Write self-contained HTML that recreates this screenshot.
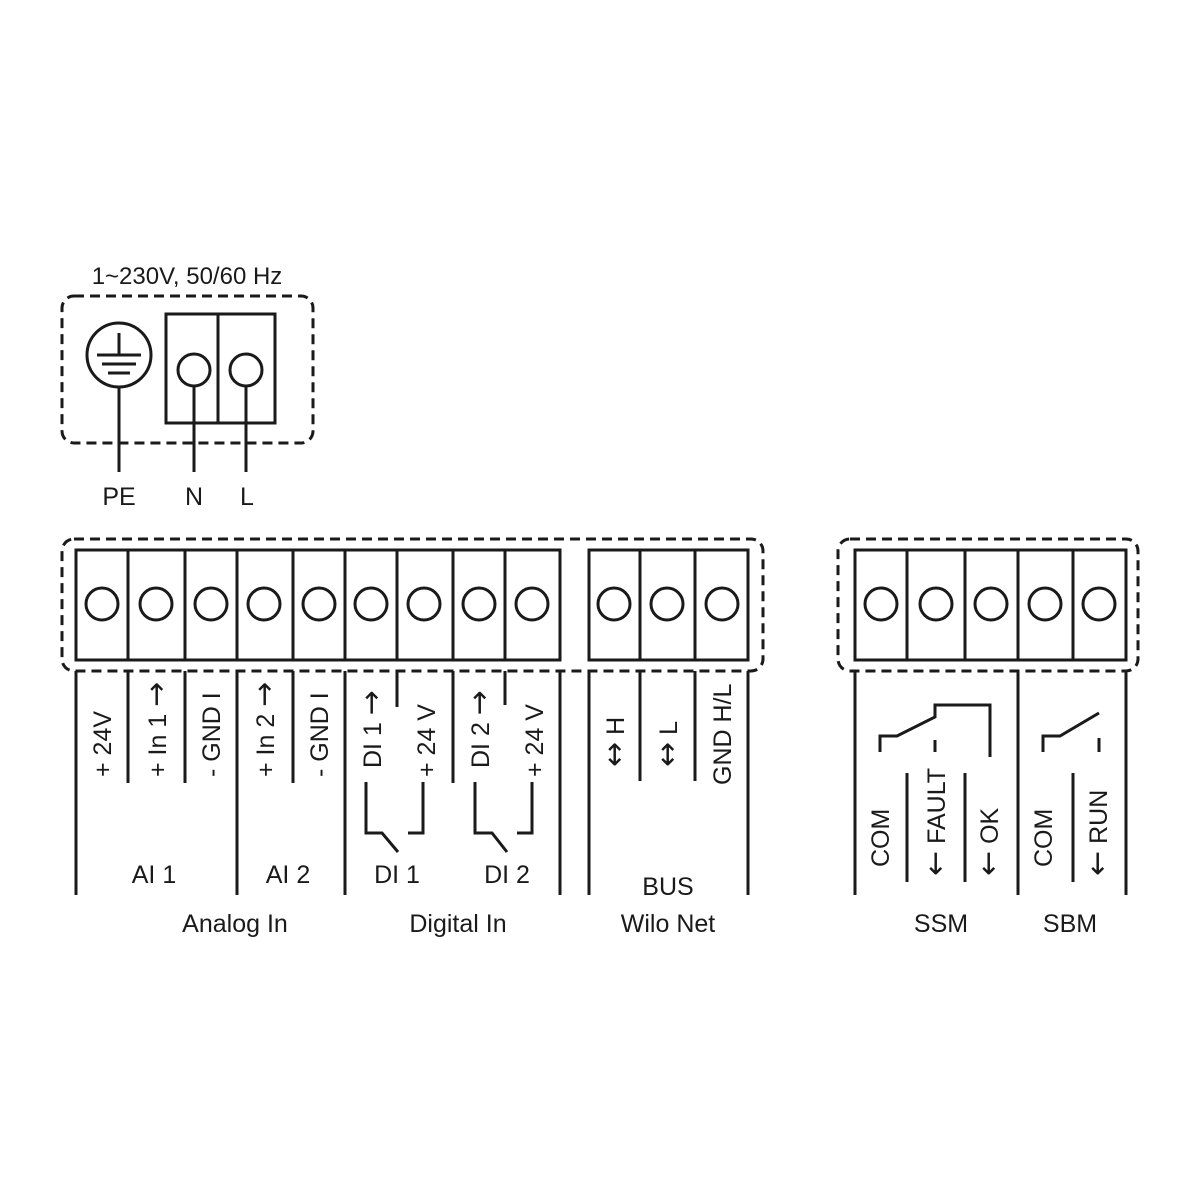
<!DOCTYPE html>
<html><head><meta charset="utf-8"><style>html,body{margin:0;padding:0;background:#fff}svg{display:block}.a{font-family:"DejaVu Sans",sans-serif;font-size:30px}</style></head>
<body>
<svg width="1200" height="1200" viewBox="0 0 1200 1200" xmlns="http://www.w3.org/2000/svg" font-family="'Liberation Sans', sans-serif" fill="none" stroke="#1a1a1a" stroke-width="3">
<rect width="1200" height="1200" fill="#fff" stroke="none"/>
<text x="187" y="284" font-size="24" fill="#1a1a1a" stroke="none" text-anchor="middle">1~230V, 50/60 Hz</text>
<rect x="62" y="296" width="251" height="147" rx="12" stroke-dasharray="10,6"/>
<circle cx="119" cy="355" r="32"/>
<line x1="119" y1="333" x2="119" y2="355"/>
<line x1="97" y1="355" x2="141" y2="355"/>
<line x1="102" y1="364" x2="136" y2="364"/>
<line x1="108" y1="373" x2="130" y2="373"/>
<line x1="119" y1="387" x2="119" y2="472"/>
<rect x="166" y="314" width="109" height="109"/>
<line x1="218" y1="314" x2="218" y2="423"/>
<circle cx="194" cy="370" r="16"/><circle cx="246" cy="370" r="16"/>
<line x1="194" y1="386" x2="194" y2="472"/><line x1="246" y1="386" x2="246" y2="472"/>
<g fill="#1a1a1a" stroke="none" font-size="25" text-anchor="middle">
<text x="119" y="505">PE</text><text x="194" y="505">N</text><text x="247" y="505">L</text>
</g>
<rect x="62" y="539" width="701" height="132" rx="12" stroke-dasharray="10,6"/>
<rect x="76" y="550" width="484" height="110"/>
<g>
<line x1="128" y1="550" x2="128" y2="660"/><line x1="185" y1="550" x2="185" y2="660"/>
<line x1="237" y1="550" x2="237" y2="660"/><line x1="293" y1="550" x2="293" y2="660"/>
<line x1="345" y1="550" x2="345" y2="660"/><line x1="397" y1="550" x2="397" y2="660"/>
<line x1="453" y1="550" x2="453" y2="660"/><line x1="505" y1="550" x2="505" y2="660"/>
</g>
<g>
<circle cx="102" cy="604" r="16"/><circle cx="156" cy="604" r="16"/><circle cx="211" cy="604" r="16"/>
<circle cx="264" cy="604" r="16"/><circle cx="319" cy="604" r="16"/><circle cx="371" cy="604" r="16"/>
<circle cx="424" cy="604" r="16"/><circle cx="479" cy="604" r="16"/><circle cx="532" cy="604" r="16"/>
</g>
<rect x="589" y="550" width="159" height="110"/>
<line x1="640" y1="550" x2="640" y2="660"/><line x1="695" y1="550" x2="695" y2="660"/>
<circle cx="614" cy="604" r="16"/><circle cx="667" cy="604" r="16"/><circle cx="722" cy="604" r="16"/>
<rect x="838" y="539" width="300" height="132" rx="12" stroke-dasharray="10,6"/>
<rect x="855" y="550" width="271" height="110"/>
<line x1="907" y1="550" x2="907" y2="660"/><line x1="965" y1="550" x2="965" y2="660"/>
<line x1="1018" y1="550" x2="1018" y2="660"/><line x1="1073" y1="550" x2="1073" y2="660"/>
<circle cx="881" cy="604" r="16"/><circle cx="936" cy="604" r="16"/><circle cx="991" cy="604" r="16"/>
<circle cx="1045" cy="604" r="16"/><circle cx="1099" cy="604" r="16"/>
<g>
<line x1="76" y1="671" x2="76" y2="895"/><line x1="128" y1="671" x2="128" y2="783"/>
<line x1="185" y1="671" x2="185" y2="783"/><line x1="237" y1="671" x2="237" y2="895"/>
<line x1="293" y1="671" x2="293" y2="783"/><line x1="345" y1="671" x2="345" y2="895"/>
<line x1="397" y1="671" x2="397" y2="707"/><line x1="453" y1="671" x2="453" y2="783"/>
<line x1="505" y1="671" x2="505" y2="705"/><line x1="560" y1="671" x2="560" y2="895"/>
<line x1="589" y1="671" x2="589" y2="895"/><line x1="640" y1="671" x2="640" y2="781"/>
<line x1="695" y1="671" x2="695" y2="781"/><line x1="748" y1="671" x2="748" y2="895"/>
<line x1="855" y1="671" x2="855" y2="895"/><line x1="1018" y1="671" x2="1018" y2="895"/>
<line x1="1126" y1="671" x2="1126" y2="895"/>
<line x1="907" y1="773" x2="907" y2="882"/><line x1="965" y1="773" x2="965" y2="882"/>
<line x1="1073" y1="773" x2="1073" y2="882"/>
</g>
<polyline points="366,782 366,833 382,833 398,852"/>
<polyline points="408,833 423,833 423,782"/>
<polyline points="475,782 475,833 492,833 507,852"/>
<polyline points="517,833 532,833 532,782"/>
<polyline points="880,752 880,736 897,736 935,717 935,705 990,705 990,757"/>
<line x1="935" y1="740" x2="935" y2="752"/>
<polyline points="1043,752 1043,736 1060,736 1099,713"/>
<line x1="1099" y1="738" x2="1099" y2="752"/>
<g fill="#1a1a1a" stroke="none" font-size="25">
<text transform="translate(111,777) rotate(-90)">+ 24V</text>
<text transform="translate(166,777) rotate(-90)">+ In 1 <tspan class="a">→</tspan></text>
<text transform="translate(220,777) rotate(-90)">- GND I</text>
<text transform="translate(274,777) rotate(-90)">+ In 2 <tspan class="a">→</tspan></text>
<text transform="translate(328,777) rotate(-90)">- GND I</text>
<text transform="translate(381,768) rotate(-90)">DI 1 <tspan class="a">→</tspan></text>
<text transform="translate(435,777) rotate(-90)">+ 24 V</text>
<text transform="translate(489,768) rotate(-90)">DI 2 <tspan class="a">→</tspan></text>
<text transform="translate(543,777) rotate(-90)">+ 24 V</text>
<text transform="translate(624,767) rotate(-90)"><tspan class="a">↔</tspan> H</text>
<text transform="translate(677,767) rotate(-90)"><tspan class="a">↔</tspan> L</text>
<text transform="translate(731,785) rotate(-90)">GND H/L</text>
<text transform="translate(889,867) rotate(-90)">COM</text>
<text transform="translate(945,876) rotate(-90)"><tspan class="a">←</tspan> FAULT</text>
<text transform="translate(998,876) rotate(-90)"><tspan class="a">←</tspan> OK</text>
<text transform="translate(1052,867) rotate(-90)">COM</text>
<text transform="translate(1107,876) rotate(-90)"><tspan class="a">←</tspan> RUN</text>
</g>
<g fill="#1a1a1a" stroke="none" font-size="25" text-anchor="middle">
<text x="154" y="883">AI 1</text><text x="288" y="883">AI 2</text>
<text x="397" y="883">DI 1</text><text x="507" y="883">DI 2</text>
<text x="668" y="895">BUS</text>
<text x="235" y="932">Analog In</text><text x="458" y="932">Digital In</text>
<text x="668" y="932">Wilo Net</text>
<text x="941" y="932">SSM</text><text x="1070" y="932">SBM</text>
</g>
</svg>
</body></html>
